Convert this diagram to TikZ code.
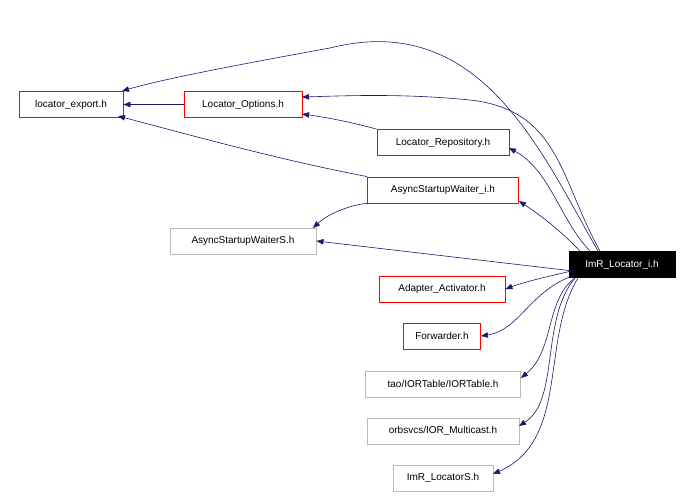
\documentclass[tikz,border=0pt]{standalone}
\usepackage{fontspec}
\setmainfont{Liberation Sans}
\usetikzlibrary{arrows.meta}
\definecolor{midnightblue}{HTML}{191970}
\definecolor{boxred}{HTML}{FF0000}
\begin{document}
\begin{tikzpicture}[x=1pt,y=-1pt,
  box/.style={draw=boxred,line width=0.9pt,fill=white,inner sep=0pt,minimum height=26pt,font=\fontsize{10}{12}\selectfont},
  gbox/.style={box,draw=gray!55},
  e/.style={draw=midnightblue,line width=0.6pt,-{Triangle[length=7pt,width=5.5pt,fill=midnightblue]}}]
\useasboundingbox (0,0) rectangle (691,498);
\node[box,minimum width=104pt] (le) at (71,104.5) {locator\_export.h};
\node[box,minimum width=118pt] (lo) at (243,104.5) {Locator\_Options.h};
\node[box,minimum width=132pt] (lr) at (443,142.5) {Locator\_Repository.h};
\node[box,minimum width=151pt] (aw) at (443,190) {AsyncStartupWaiter\_i.h};
\node[gbox,minimum width=146pt] (as) at (243,241) {AsyncStartupWaiterS.h};
\node[draw=black,fill=black,text=white,inner sep=0pt,minimum height=26pt,minimum width=106pt,font=\fontsize{10}{12}\selectfont] (imr) at (622,264.5) {ImR\_Locator\_i.h};
\node[box,minimum width=126pt] (aa) at (442,289) {Adapter\_Activator.h};
\node[box,minimum width=77pt] (fw) at (442,336) {Forwarder.h};
\node[gbox,minimum width=155pt] (it) at (443,384) {tao/IORTable/IORTable.h};
\node[gbox,minimum width=152pt] (im) at (443,431) {orbsvcs/IOR\_Multicast.h};
\node[gbox,minimum width=100pt] (ls) at (443,478) {ImR\_LocatorS.h};
\coordinate (t1) at (598,251);
\draw[e] (t1) .. controls (540,150) and (480,10) .. (330,48) .. controls (220,68) and (160,80) .. (122,91);
\draw[e] (600,251) .. controls (560,180) and (560,110) .. (470,100) .. controls (400,93) and (340,96) .. (302,97);
\draw[e] (lo) -- (le);
\draw[e] (lr.north west) .. controls (350,122) and (330,118) .. (302,114);
\draw[e] (aw.north west) .. controls (280,160) and (190,135) .. (118,116);
\draw[e] (aw.south west) .. controls (355,204) and (330,212) .. (313,228);
\draw[e] (590,251) .. controls (560,220) and (550,170) .. (509,148);
\draw[e] (580,251) .. controls (560,230) and (540,215) .. (519,201);
\draw[e] ([yshift=-6pt]imr.west) -- (as.east);
\draw[e] (575,270) .. controls (560,274) and (530,280) .. (aa.east);
\draw[e] (575,275) .. controls (530,290) and (520,330) .. (fw.east);
\draw[e] (575,278) .. controls (545,300) and (555,350) .. (521,378);
\draw[e] (575,278) .. controls (540,320) and (560,400) .. (519,426);
\draw[e] (578,278) .. controls (540,340) and (570,440) .. (493,474);
\end{tikzpicture}
\end{document}
